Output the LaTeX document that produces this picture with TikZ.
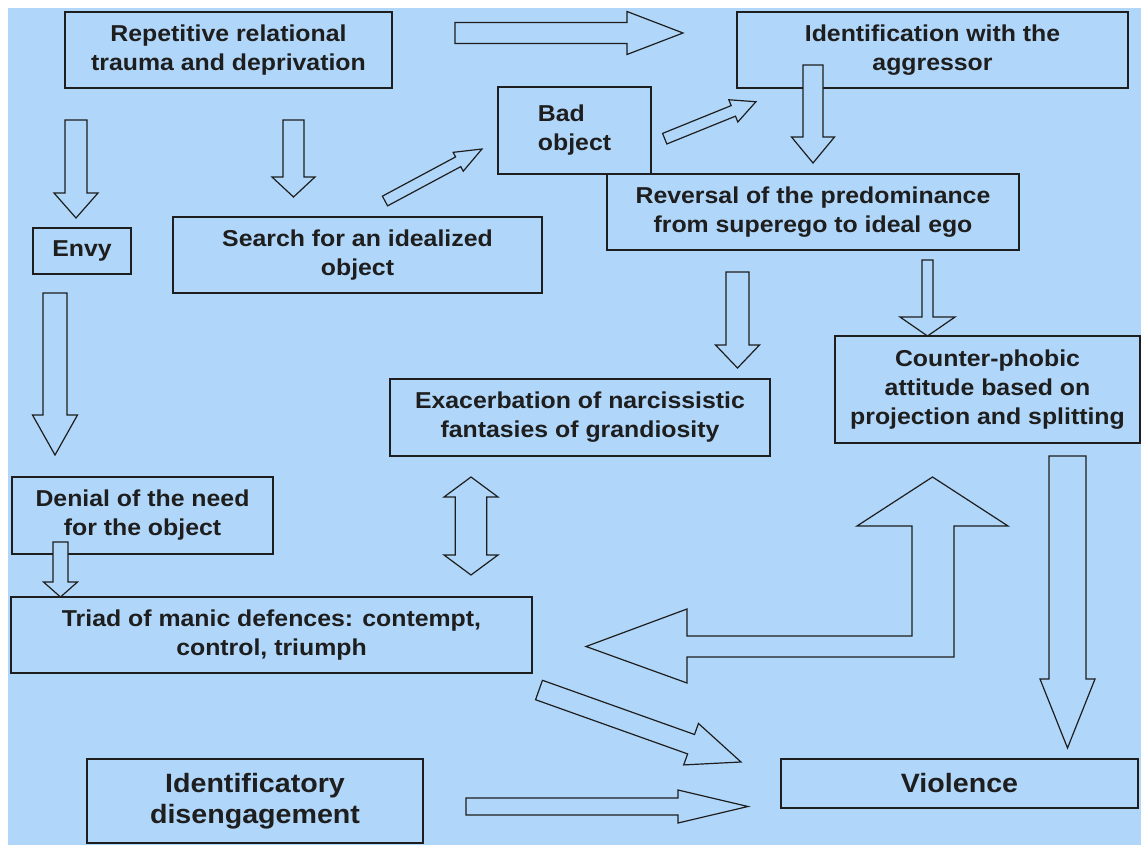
\documentclass[tikz,border=0pt]{standalone}
\usepackage{fontspec}
\setmainfont{Liberation Sans}[FakeStretch=1.08]
\usetikzlibrary{calc}
\definecolor{bgblue}{HTML}{B0D6FA}
\definecolor{ink}{HTML}{1E1E1E}
\tikzset{
  box/.style={draw=ink, line width=1.3pt, fill=bgblue, inner sep=0pt, align=center, text=ink,
    font=\bfseries\fontsize{23}{29}\selectfont},
  bigbox/.style={box, font=\bfseries\fontsize{26.5}{31}\selectfont},
  arr/.style={draw=ink, line width=1.2pt, fill=bgblue, line join=miter},
}
% block arrow: #1 start coord, #2 end coord, #3 shaft half width, #4 head half width, #5 head length
\newcommand\barrow[5]{%
  \pgfpointdiff{\pgfpointanchor{#1}{center}}{\pgfpointanchor{#2}{center}}%
  \pgfgetlastxy{\bdx}{\bdy}%
  \pgfmathsetmacro\bang{atan2(\bdy,\bdx)}%
  \pgfmathsetmacro\blen{veclen(\bdx,\bdy)}%
  \pgfmathsetmacro\bhb{\blen-#5}%
  \begin{scope}[shift={(#1)}, rotate=\bang, x=1pt, y=1pt]
    \draw[arr] (0,-#3) -- (\bhb,-#3) -- (\bhb,-#4) -- (\blen,0) -- (\bhb,#4) -- (\bhb,#3) -- (0,#3) -- cycle;
  \end{scope}%
}
\begin{document}
\begin{tikzpicture}[x=1pt,y=-1pt]
\useasboundingbox (0,0) rectangle (1141,845);
\fill[white] (0,0) rectangle (1141,845);
\fill[bgblue] (8,8) rectangle (1141,845);

% boxes
\node[box, minimum width=327pt, minimum height=76pt] (rep) at (228.5,50) {Repetitive relational\\trauma and deprivation};
\node[box, minimum width=391pt, minimum height=76pt] (ident) at (932.5,50) {Identification with the\\aggressor};
\node[box, minimum width=153pt, minimum height=87pt, align=left] (bad) at (574.5,130.5) {Bad\\object};
\node[box, minimum width=412pt, minimum height=76pt] (rev) at (813,212) {Reversal of the predominance\\from superego to ideal ego};
\node[box, minimum width=98pt, minimum height=46pt] (envy) at (82,251) {Envy};
\node[box, minimum width=369pt, minimum height=76pt] (search) at (357.5,255) {Search for an idealized\\object};
\node[box, minimum width=380pt, minimum height=77pt] (exac) at (580,417.5) {Exacerbation of narcissistic\\fantasies of grandiosity};
\node[box, minimum width=305pt, minimum height=107pt] (counter) at (987.5,389.5) {Counter-phobic\\attitude based on\\projection and splitting};
\node[box, minimum width=261pt, minimum height=77pt] (denial) at (142.5,515.5) {Denial of the need\\for the object};
\node[box, minimum width=521pt, minimum height=76pt] (triad) at (271.5,635) {Triad of manic defences: contempt,\\control, triumph};
\node[bigbox, minimum width=336pt, minimum height=84pt] (idis) at (255,801) {Identificatory\\disengagement};
\node[bigbox, minimum width=357pt, minimum height=49pt] (viol) at (959.5,783.5) {Violence};

% arrow end points
\coordinate (a1s) at (455,33);    \coordinate (a1e) at (683,33);
\coordinate (a2s) at (76,120);    \coordinate (a2e) at (76,218);
\coordinate (a3s) at (293.5,120); \coordinate (a3e) at (293.5,197);
\coordinate (a4s) at (385,201);   \coordinate (a4e) at (482,149);
\coordinate (a5s) at (664.7,138.7); \coordinate (a5e) at (756,101.7);
\coordinate (a6s) at (813,65);    \coordinate (a6e) at (813,163);
\coordinate (a7s) at (737.5,272); \coordinate (a7e) at (737.5,368);
\coordinate (a8s) at (927.5,260); \coordinate (a8e) at (927.5,336);
\coordinate (a9s) at (55,293);    \coordinate (a9e) at (55,455);
\coordinate (a10s) at (60.5,542); \coordinate (a10e) at (60.5,597);
\coordinate (a12s) at (1067.5,456); \coordinate (a12e) at (1067.5,748);
\coordinate (a14s) at (539,690);  \coordinate (a14e) at (741,762);
\coordinate (a15s) at (466,806.5); \coordinate (a15e) at (748,806.5);

\barrow{a1s}{a1e}{10.5}{21.5}{56}
\barrow{a2s}{a2e}{11}{22}{25}
\barrow{a3s}{a3e}{10.5}{21.5}{20}
\barrow{a4s}{a4e}{5.5}{10.7}{27}
\barrow{a5s}{a5e}{5.7}{12}{24.4}
\barrow{a6s}{a6e}{10}{21.5}{26}
\barrow{a7s}{a7e}{11.5}{22}{23}
\barrow{a8s}{a8e}{5.5}{27.5}{19}
\barrow{a9s}{a9e}{12}{22.5}{40}
\barrow{a10s}{a10e}{7.5}{17}{15}
\barrow{a12s}{a12e}{18.5}{27.5}{69}
\barrow{a14s}{a14e}{10.3}{22}{53}
\barrow{a15s}{a15e}{8.5}{16.5}{70}

% double arrow between exacerbation and triad
\draw[arr] (471,477) -- (498,497) -- (486.7,497) -- (486.7,555) -- (498,555) -- (471,575)
  -- (444,555) -- (455.3,555) -- (455.3,497) -- (444,497) -- cycle;

% bent arrow: counter-phobic <-> triad
\draw[arr] (932.5,477) -- (1008,526) -- (954,526) -- (954,657) -- (687,657) -- (687,683)
  -- (586,646.5) -- (687,609) -- (687,636) -- (912,636) -- (912,526) -- (857,526) -- cycle;
\end{tikzpicture}
\end{document}
